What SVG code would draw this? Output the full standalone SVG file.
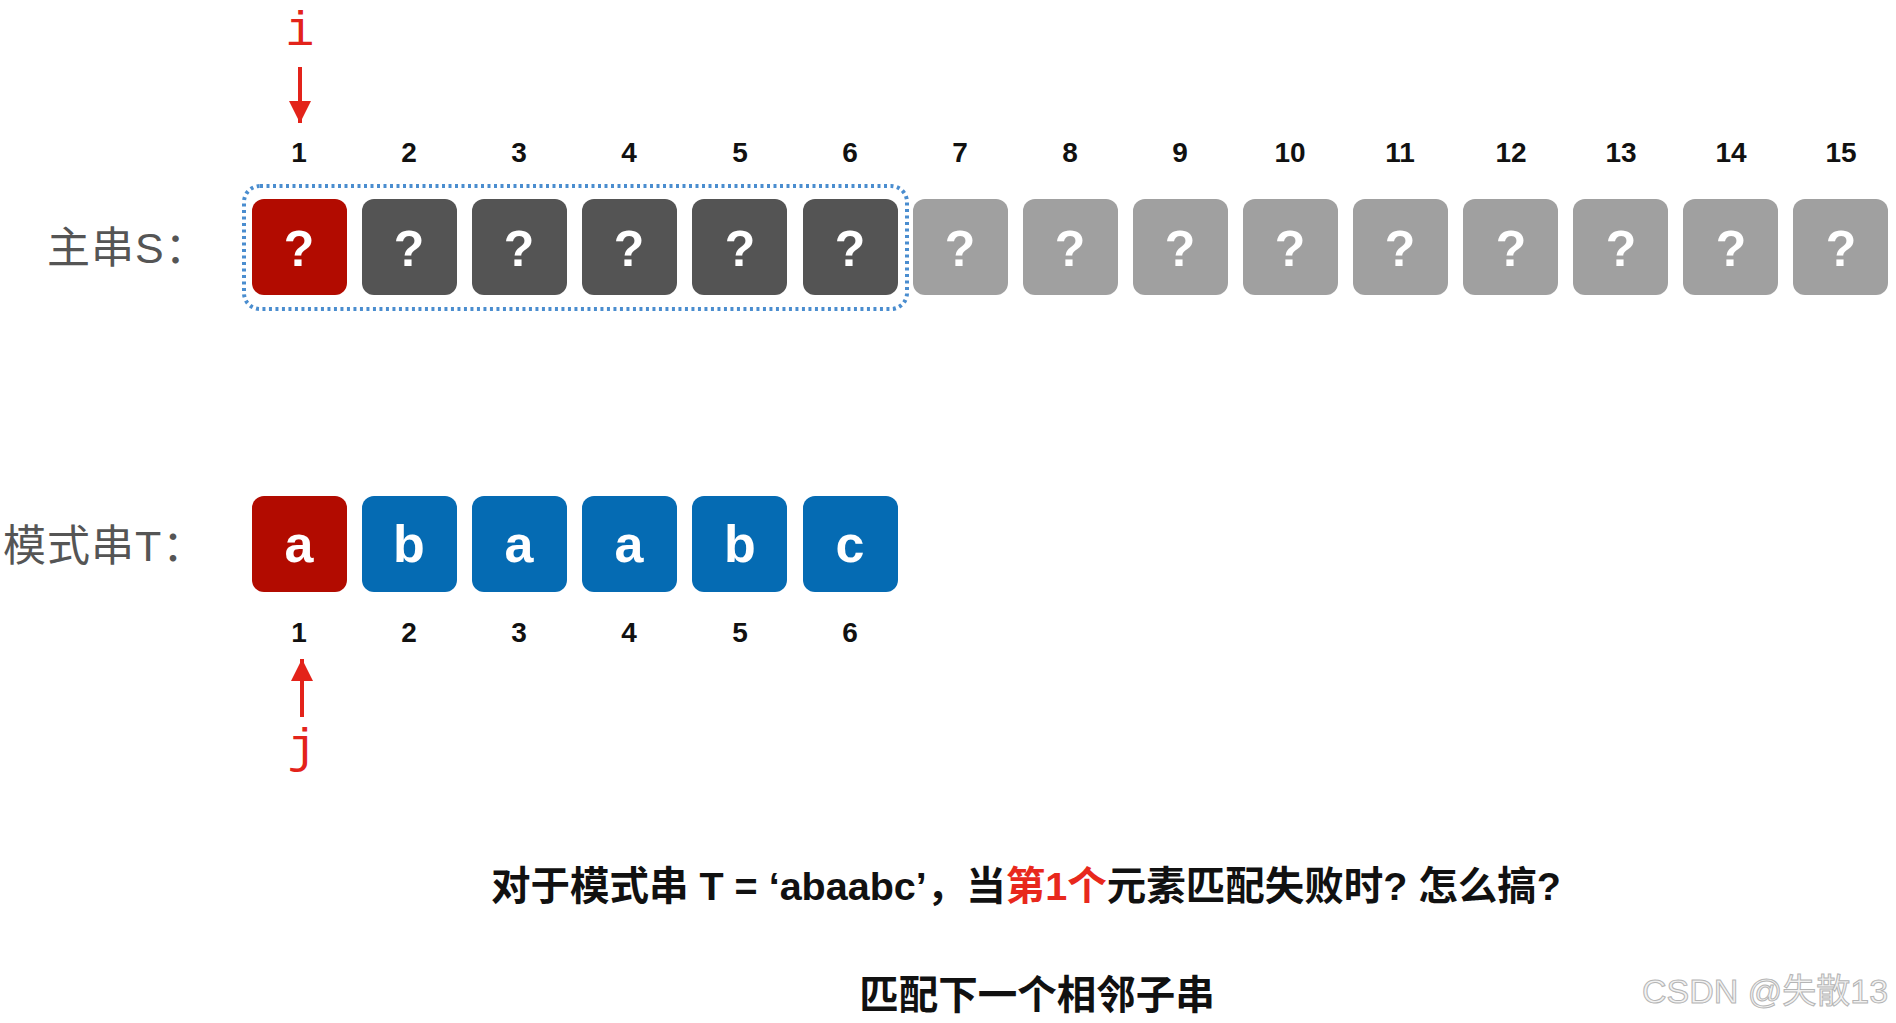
<svg xmlns="http://www.w3.org/2000/svg" width="1896" height="1023" viewBox="0 0 1896 1023">
<style>
.box{stroke:none}
.red{fill:#b20b00}
.dark{fill:#545454}
.light{fill:#a0a0a0}
.blue{fill:#056bb3}
.q{font-family:"Liberation Sans",sans-serif;font-weight:bold;font-size:50px;fill:#fff;text-anchor:middle}
.ch{font-family:"Liberation Sans",sans-serif;font-weight:bold;font-size:52px;fill:#fff;text-anchor:middle}
.num{font-family:"Liberation Sans",sans-serif;font-weight:bold;font-size:28px;fill:#111;text-anchor:middle}
.lbl{font-family:"Liberation Sans","Noto Sans CJK SC",sans-serif;font-size:43px;fill:#555;letter-spacing:1px}
.ptr{font-family:"Liberation Mono",monospace;font-size:48px;fill:#e3231a;text-anchor:middle}
.cap{font-family:"Liberation Sans","Noto Sans CJK SC",sans-serif;font-weight:bold;font-size:39.5px;fill:#111;text-anchor:middle}
.arrow{stroke:#e3231a;stroke-width:4;fill:none}
</style>
<defs>
<marker id="ah" viewBox="0 0 10 10" refX="10" refY="5" markerWidth="5.5" markerHeight="5.5" orient="auto" markerUnits="strokeWidth">
<path d="M0,0 L10,5 L0,10 z" fill="#e3231a"/>
</marker>
</defs>

<text class="lbl" x="47" y="263">主串S：</text>
<text class="lbl" x="3" y="561">模式串T：</text>

<g id="top-numbers">
<text class="num" x="299" y="162">1</text>
<text class="num" x="409" y="162">2</text>
<text class="num" x="519" y="162">3</text>
<text class="num" x="629" y="162">4</text>
<text class="num" x="740" y="162">5</text>
<text class="num" x="850" y="162">6</text>
<text class="num" x="960" y="162">7</text>
<text class="num" x="1070" y="162">8</text>
<text class="num" x="1180" y="162">9</text>
<text class="num" x="1290" y="162">10</text>
<text class="num" x="1400" y="162">11</text>
<text class="num" x="1511" y="162">12</text>
<text class="num" x="1621" y="162">13</text>
<text class="num" x="1731" y="162">14</text>
<text class="num" x="1841" y="162">15</text>
</g>

<g id="S">
<g id="s1"><rect class="box red" x="252" y="199" width="95" height="96" rx="12"/><text class="q" x="299" y="266">?</text></g>
<g id="s2"><rect class="box dark" x="362" y="199" width="95" height="96" rx="12"/><text class="q" x="409" y="266">?</text></g>
<g id="s3"><rect class="box dark" x="472" y="199" width="95" height="96" rx="12"/><text class="q" x="519" y="266">?</text></g>
<g id="s4"><rect class="box dark" x="582" y="199" width="95" height="96" rx="12"/><text class="q" x="629" y="266">?</text></g>
<g id="s5"><rect class="box dark" x="692" y="199" width="95" height="96" rx="12"/><text class="q" x="740" y="266">?</text></g>
<g id="s6"><rect class="box dark" x="803" y="199" width="95" height="96" rx="12"/><text class="q" x="850" y="266">?</text></g>
<g id="s7"><rect class="box light" x="913" y="199" width="95" height="96" rx="12"/><text class="q" x="960" y="266">?</text></g>
<g id="s8"><rect class="box light" x="1023" y="199" width="95" height="96" rx="12"/><text class="q" x="1070" y="266">?</text></g>
<g id="s9"><rect class="box light" x="1133" y="199" width="95" height="96" rx="12"/><text class="q" x="1180" y="266">?</text></g>
<g id="s10"><rect class="box light" x="1243" y="199" width="95" height="96" rx="12"/><text class="q" x="1290" y="266">?</text></g>
<g id="s11"><rect class="box light" x="1353" y="199" width="95" height="96" rx="12"/><text class="q" x="1400" y="266">?</text></g>
<g id="s12"><rect class="box light" x="1463" y="199" width="95" height="96" rx="12"/><text class="q" x="1511" y="266">?</text></g>
<g id="s13"><rect class="box light" x="1573" y="199" width="95" height="96" rx="12"/><text class="q" x="1621" y="266">?</text></g>
<g id="s14"><rect class="box light" x="1683" y="199" width="95" height="96" rx="12"/><text class="q" x="1731" y="266">?</text></g>
<g id="s15"><rect class="box light" x="1793" y="199" width="95" height="96" rx="12"/><text class="q" x="1841" y="266">?</text></g>
</g>

<g id="window">
<rect x="244" y="186" width="663" height="123" rx="16" fill="none" stroke="#4a8dcf" stroke-width="4" stroke-dasharray="3 3.5"/>
</g>

<g id="T">
<g id="t1"><rect class="box red" x="252" y="496" width="95" height="96" rx="12"/><text class="ch" x="299" y="562">a</text></g>
<g id="t2"><rect class="box blue" x="362" y="496" width="95" height="96" rx="12"/><text class="ch" x="409" y="562">b</text></g>
<g id="t3"><rect class="box blue" x="472" y="496" width="95" height="96" rx="12"/><text class="ch" x="519" y="562">a</text></g>
<g id="t4"><rect class="box blue" x="582" y="496" width="95" height="96" rx="12"/><text class="ch" x="629" y="562">a</text></g>
<g id="t5"><rect class="box blue" x="692" y="496" width="95" height="96" rx="12"/><text class="ch" x="740" y="562">b</text></g>
<g id="t6"><rect class="box blue" x="803" y="496" width="95" height="96" rx="12"/><text class="ch" x="850" y="562">c</text></g>
</g>

<g id="bottom-numbers">
<text class="num" x="299" y="642">1</text>
<text class="num" x="409" y="642">2</text>
<text class="num" x="519" y="642">3</text>
<text class="num" x="629" y="642">4</text>
<text class="num" x="740" y="642">5</text>
<text class="num" x="850" y="642">6</text>
</g>

<g id="pointers">
<text class="ptr" x="300" y="45">i</text>
<text class="ptr" x="302" y="762">j</text>
</g>

<g id="connectors">
<line class="arrow" x1="300" y1="67" x2="300" y2="123" marker-end="url(#ah)"/>
<line class="arrow" x1="302" y1="717" x2="302" y2="659" marker-end="url(#ah)"/>
</g>

<text class="cap" x="1026" y="900">对于模式串 T = ‘abaabc’，当<tspan fill="#e8281c">第1个</tspan>元素匹配失败时? 怎么搞?</text>
<text class="cap" x="1037" y="1009">匹配下一个相邻子串</text>

<text x="1765" y="1003" font-family="Liberation Sans,'Noto Sans CJK SC',sans-serif" font-size="34" fill="#f2f2f2" stroke="#b5b5b5" stroke-width="1" text-anchor="middle">CSDN @失散13</text>
</svg>
